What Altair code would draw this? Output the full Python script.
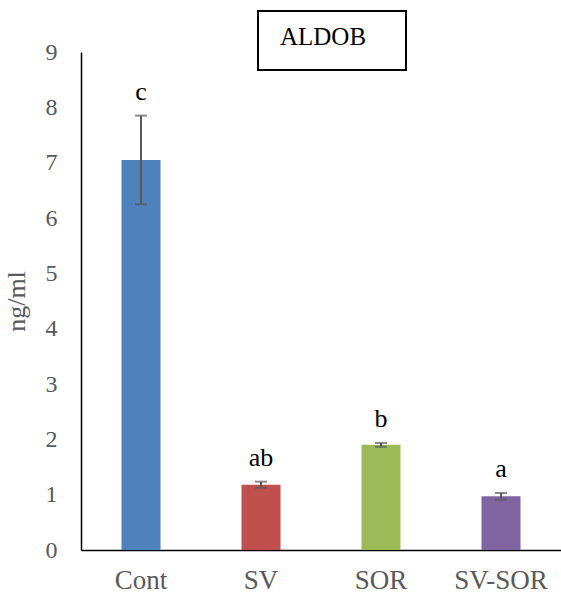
import altair as alt
import pandas as pd

groups = ["Cont", "SV", "SOR", "SV-SOR"]
means = [7.05, 1.18, 1.90, 0.97]
errors = [0.80, 0.055, 0.035, 0.06]
letters = ["c", "ab", "b", "a"]
colors = ["#4F81BD", "#C0504D", "#9BBB59", "#8064A2"]
y_ticks = [0, 1, 2, 3, 4, 5, 6, 7, 8, 9]
title_text = "ALDOB"
y_title = "ng/ml"

df = pd.DataFrame({
    "group": groups,
    "mean": means,
    "err": errors,
    "letter": letters,
})
df["lo"] = df["mean"] - df["err"]
df["hi"] = df["mean"] + df["err"]

FONT = "Liberation Serif"
GRAY = "#595959"

x_axis = alt.Axis(
    title=None,
    labelAngle=0,
    labelFont=FONT,
    labelFontSize=27,
    labelColor=GRAY,
    labelPadding=17,
    ticks=False,
    domainColor="black",
    domainWidth=1.5,
    grid=False,
)
x_scale = alt.Scale(paddingInner=0, paddingOuter=0)

def xe():
    return alt.X("group:N", sort=groups, scale=x_scale, axis=x_axis)

y_axis = alt.Axis(
    title=y_title,
    values=y_ticks,
    format="d",
    titleFont=FONT,
    titleFontSize=26,
    titleFontWeight="normal",
    titleColor=GRAY,
    titlePadding=16,
    labelFont=FONT,
    labelFontSize=24,
    labelColor=GRAY,
    labelPadding=24,
    ticks=False,
    grid=False,
    domainColor="black",
    domainWidth=1.5,
)
y_scale = alt.Scale(domain=[0, 9], nice=False)

def ye(field):
    return alt.Y(field, scale=y_scale, axis=y_axis, title=y_title)

base = alt.Chart(df)

bars = base.mark_bar(size=39).encode(
    x=xe(),
    y=ye("mean:Q"),
    color=alt.Color("group:N", scale=alt.Scale(domain=groups, range=colors), legend=None),
)

rules = base.mark_rule(color=GRAY, strokeWidth=2).encode(
    x=xe(),
    y=ye("lo:Q"),
    y2="hi:Q",
)

caps_hi = base.mark_tick(color=GRAY, thickness=2, size=12, orient="horizontal").encode(
    x=xe(),
    y=ye("hi:Q"),
)
caps_lo = base.mark_tick(color=GRAY, thickness=2, size=12, orient="horizontal").encode(
    x=xe(),
    y=ye("lo:Q"),
)

labels = base.mark_text(
    font=FONT, fontSize=26, color="black", baseline="alphabetic", dy=-16
).encode(
    x=xe(),
    y=ye("hi:Q"),
    text="letter:N",
)

box = alt.Chart(pd.DataFrame({"t": [title_text]})).mark_rect(
    filled=False, stroke="black", strokeWidth=2, clip=False
).encode(
    x=alt.value(177), x2=alt.value(325), y=alt.value(-41), y2=alt.value(18)
)

title_mark = alt.Chart(pd.DataFrame({"t": [title_text]})).mark_text(
    font=FONT, fontSize=25, color="black", baseline="alphabetic", align="center"
).encode(
    x=alt.value(242), y=alt.value(-7), text="t:N"
)

chart = alt.layer(bars, rules, caps_hi, caps_lo, labels, box, title_mark).properties(
    width=480,
    height=498,
    autosize=alt.AutoSizeParams(type="none"),
    padding={"left": 81, "top": 52, "right": 0, "bottom": 49},
).configure(background="white").configure_view(stroke=None).configure_axis(grid=False)

chart.save("out.html", embed_options={"renderer": "svg", "actions": False})
